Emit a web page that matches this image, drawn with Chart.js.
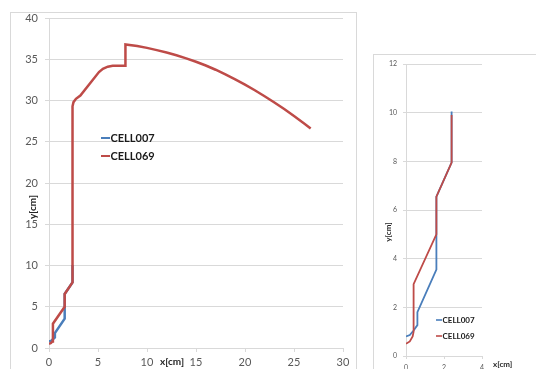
<!DOCTYPE html>
<html>
<head>
<meta charset="utf-8">
<script src="https://cdn.jsdelivr.net/npm/chart.js@4/dist/chart.umd.min.js"></script>
<style>
  html, body { margin: 0; padding: 0; background: #fff; width: 536px; height: 369px; overflow: hidden; }
  .frame { position: absolute; border: 1px solid #d9d9d9; box-sizing: border-box; }
  #mainFrame { left: 10px; top: 12px; width: 347px; height: 370px; }
  #insetFrame { left: 373px; top: 54px; width: 170px; height: 330px; }
  canvas { position: absolute; }
  #mainChart { left: 11px; top: 13px; }
  #insetChart { left: 374px; top: 55px; }
</style>
</head>
<body>
<div class="frame" id="mainFrame"></div>
<div class="frame" id="insetFrame"></div>
<canvas id="mainChart" width="344" height="356"></canvas>
<canvas id="insetChart" width="162" height="314"></canvas>
<script>
// Series names and axis titles
const seriesNames = ['CELL007', 'CELL069'];
const axisTitles = { x: 'x[cm]', y: 'y[cm]' };

// CELL007 trajectory (x, y in cm)
const cell007X = [0, 0.2, 0.4, 0.6, 0.6, 1.6, 1.6, 2.4, 2.4];
const cell007Y = [0.8, 0.86, 1.05, 1.27, 1.8, 3.55, 6.55, 7.95, 10.05];

// CELL069 trajectory (x, y in cm), full run
const cell069X = [0, 0.2, 0.35, 0.4, 0.4, 1.6, 1.6, 2.4, 2.4, 2.5, 2.75, 3.2, 5.1, 5.5, 6.0, 6.5, 7.8, 7.8,
                  9, 10, 11, 12, 13, 14, 15, 16, 17, 18, 19, 20, 21, 22, 23, 24, 25, 26, 26.7];
const cell069Y = [0.5, 0.6, 0.8, 1.0, 2.95, 5.0, 6.55, 7.95, 29.3, 29.8, 30.2, 30.6, 33.45, 33.85, 34.1, 34.2, 34.2, 36.8,
                  36.6, 36.38, 36.11, 35.81, 35.48, 35.11, 34.7, 34.24, 33.73, 33.17, 32.56, 31.92, 31.24, 30.52, 29.76, 28.96, 28.12, 27.25, 26.62];

// CELL069 early section shown in the close-up
const cell069EarlyX = [0, 0.2, 0.35, 0.4, 0.4, 1.6, 1.6, 2.4, 2.4];
const cell069EarlyY = [0.5, 0.6, 0.8, 1.0, 2.95, 5.0, 6.55, 7.95, 9.9];

// Axis ranges and tick steps: [min, max, step]
const mainXRange = [0, 30, 5];
const mainYRange = [0, 40, 5];
const insetXRange = [0, 4, 2];
const insetYRange = [0, 12, 2];

const BLUE = '#4a7ebb';
const RED = '#be4b48';
const GRID = '#d9d9d9';
const TICK_COLOR = '#595959';

const toPoints = (xs, ys) => xs.map((x, i) => ({ x, y: ys[i] }));

// Axis titles and an in-plot legend
const overlay = {
  id: 'overlay',
  afterDraw(chart, _args, o) {
    const ctx = chart.ctx, a = chart.chartArea;
    ctx.save();
    ctx.fillStyle = '#262626';
    ctx.font = `bold ${o.titleSize}px Lato`;
    ctx.textBaseline = 'middle';
    ctx.textAlign = 'left';
    ctx.fillText(axisTitles.x, a.left + o.xTitle[0], a.bottom + o.xTitle[1]);
    ctx.translate(a.left + o.yTitle[0], a.top + o.yTitle[1]);
    ctx.rotate(-Math.PI / 2);
    ctx.textAlign = 'center';
    ctx.fillText(axisTitles.y, 0, 0);
    ctx.restore();

    ctx.save();
    ctx.font = `bold ${o.legend.size}px Lato`;
    ctx.textBaseline = 'middle';
    ctx.textAlign = 'left';
    chart.data.datasets.forEach((ds, i) => {
      const y = a.top + o.legend.y + i * o.legend.gap;
      const x0 = a.left + o.legend.x;
      ctx.strokeStyle = ds.borderColor;
      ctx.lineWidth = o.legend.lw;
      ctx.beginPath();
      ctx.moveTo(x0, y);
      ctx.lineTo(x0 + o.legend.len, y);
      ctx.stroke();
      ctx.fillStyle = '#1a1a1a';
      ctx.fillText(ds.label, x0 + o.legend.len + 0.5, y + 0.5);
    });
    ctx.restore();
  }
};

function makeChart(id, c) {
  const series = (label, xs, ys, color, order) => ({
    label, data: toPoints(xs, ys), borderColor: color, backgroundColor: color,
    borderWidth: c.lw, showLine: true, pointRadius: 0, tension: 0, order
  });
  return new Chart(document.getElementById(id), {
    type: 'scatter',
    data: {
      datasets: [
        series(seriesNames[0], c.blue[0], c.blue[1], BLUE, 1),
        series(seriesNames[1], c.red[0], c.red[1], RED, 0)
      ]
    },
    options: {
      responsive: false,
      animation: false,
      events: [],
      layout: { padding: c.padding },
      plugins: { legend: { display: false }, tooltip: { enabled: false }, overlay: c.overlay },
      scales: {
        x: {
          type: 'linear', min: c.xr[0], max: c.xr[1],
          afterFit: s => { s.height = c.xH; s.paddingLeft = 0; s.paddingRight = 0; },
          ticks: { stepSize: c.xr[2], color: TICK_COLOR, font: { family: 'Lato', size: c.font }, padding: c.xPad, maxRotation: 0, autoSkip: false },
          grid: { drawOnChartArea: false, drawTicks: true, tickLength: c.tick, color: GRID },
          border: { display: true, color: GRID }
        },
        y: {
          type: 'linear', min: c.yr[0], max: c.yr[1],
          afterFit: s => { s.width = c.yW; s.paddingTop = 0; s.paddingBottom = 0; },
          ticks: { stepSize: c.yr[2], color: TICK_COLOR, font: { family: 'Lato', size: c.font }, padding: c.yPad, autoSkip: false },
          grid: { drawTicks: true, tickLength: c.tick, color: GRID },
          border: { display: true, color: GRID }
        }
      }
    },
    plugins: [overlay]
  });
}

// Full trajectories
makeChart('mainChart', {
  blue: [cell007X, cell007Y], red: [cell069X, cell069Y],
  xr: mainXRange, yr: mainYRange,
  lw: 2.5, font: 11, tick: 4, xPad: 4, yPad: 7, xH: 21, yW: 38,
  padding: { top: 5, right: 12, left: 0, bottom: 0 },
  overlay: { titleSize: 10, xTitle: [111, 14], yTitle: [-16, 189],
             legend: { x: 52, len: 9, y: 120, gap: 18, lw: 2, size: 11 } }
});

// Close-up of the first 10 cm
makeChart('insetChart', {
  blue: [cell007X, cell007Y], red: [cell069EarlyX, cell069EarlyY],
  xr: insetXRange, yr: insetYRange,
  lw: 1.8, font: 7, tick: 3, xPad: 5, yPad: 6, xH: 13, yW: 32,
  padding: { top: 9, right: 54, left: 0, bottom: 0 },
  overlay: { titleSize: 8, xTitle: [87, 8], yTitle: [-18, 168],
             legend: { x: 30, len: 6, y: 256, gap: 16, lw: 1.6, size: 8 } }
});
</script>
</body>
</html>
